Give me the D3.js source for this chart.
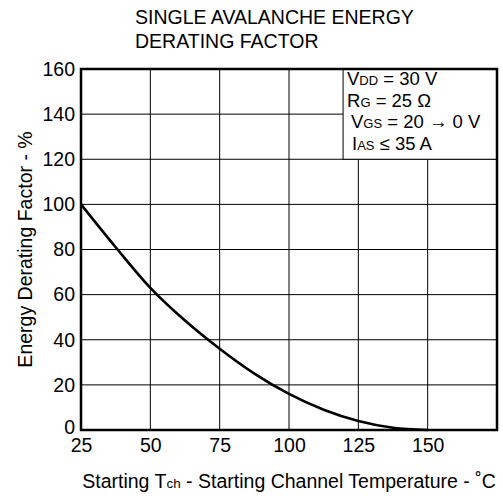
<!DOCTYPE html>
<html>
<head>
<meta charset="utf-8">
<script src="https://cdn.jsdelivr.net/npm/d3@7/dist/d3.min.js"></script>
<style>
  html, body { margin: 0; padding: 0; background: #fff; }
  svg { display: block; font-family: "Liberation Sans", Arial, Helvetica, sans-serif; }
</style>
</head>
<body>
<svg id="chart" width="503" height="500"></svg>
<script>
// Starting channel temperature (°C) and derating factor (%)
const tempC = [25, 37.5, 50, 62.5, 75, 87.5, 100, 112.5, 125, 137.5, 150];
const derating = [100, 81, 63, 48.5, 36, 25, 16, 9, 4, 1, 0];

const xTicks = [25, 50, 75, 100, 125, 150];
const xGrid = [50, 75, 100, 125, 150];
const yTicks = [0, 20, 40, 60, 80, 100, 120, 140, 160];
const yGrid = [20, 40, 60, 80, 100, 120, 140];

const titleLines = ["SINGLE AVALANCHE ENERGY", "DERATING FACTOR"];
const conditions = [
  [["V", 18.5], ["DD", 13], [" = 30 V", 18.5]],
  [["R", 18.5], ["G", 13], [" = 25 \u03A9", 18.5]],
  [["V", 18.5], ["GS", 13], [" = 20 \u2192 0 V", 18.5]],
  [["I", 18.5], ["AS", 13], [" \u2264 35 A", 18.5]]
];

const svg = d3.select("#chart");
const m = { left: 81, right: 6, top: 69, bottom: 70 };
const W = 503, H = 500;

const x = d3.scaleLinear().domain([25, 175]).range([m.left, W - m.right]);
const y = d3.scaleLinear().domain([0, 160]).range([H - m.bottom, m.top]);

// grid
const grid = svg.append("g").attr("stroke", "#000").attr("stroke-width", 1);
grid.selectAll("line.v").data(xGrid).join("line")
  .attr("x1", d => x(d)).attr("x2", d => x(d))
  .attr("y1", y(0)).attr("y2", y(160));
grid.selectAll("line.h").data(yGrid).join("line")
  .attr("x1", x(25)).attr("x2", x(175))
  .attr("y1", d => y(d)).attr("y2", d => y(d));

// condition box in the upper right corner
const boxX = x(119.5), boxY = y(160), boxW = x(175) - x(119.5), boxH = y(120) - y(160);
svg.append("rect")
  .attr("x", boxX).attr("y", boxY).attr("width", boxW).attr("height", boxH)
  .attr("fill", "#fff").attr("stroke", "#000").attr("stroke-width", 1);

const lineX = [347, 347, 351, 352];
conditions.forEach((parts, i) => {
  const t = svg.append("text")
    .attr("x", lineX[i]).attr("y", 85 + i * 21.5)
    .attr("fill", "#000");
  parts.forEach(([s, fs]) => t.append("tspan").attr("font-size", fs).text(s));
});

// curve
svg.append("path")
  .datum(tempC.map((t, i) => [t, derating[i]]))
  .attr("fill", "none").attr("stroke", "#000").attr("stroke-width", 2.6)
  .attr("d", d3.line().x(d => x(d[0])).y(d => y(d[1])).curve(d3.curveMonotoneX));

// frame
svg.append("rect")
  .attr("x", x(25)).attr("y", y(160))
  .attr("width", x(175) - x(25)).attr("height", y(0) - y(160))
  .attr("fill", "none").attr("stroke", "#000").attr("stroke-width", 2.5);

// axes
const xAxis = svg.append("g").attr("transform", `translate(0,${y(0)})`)
  .call(d3.axisBottom(x).tickValues(xTicks).tickSize(0).tickPadding(8));
const yAxis = svg.append("g").attr("transform", `translate(${x(25)},0)`)
  .call(d3.axisLeft(y).tickValues(yTicks).tickSize(0).tickPadding(6));
[xAxis, yAxis].forEach(g => {
  g.select(".domain").remove();
  g.selectAll("text").attr("font-size", 19.5).attr("fill", "#000")
    .attr("font-family", "\"Liberation Sans\", Arial, sans-serif");
});
yAxis.selectAll(".tick").filter(d => d === 0).select("text").attr("dy", "0.2em");

// title
svg.append("g").selectAll("text").data(titleLines).join("text")
  .attr("x", 135).attr("y", (d, i) => 24 + i * 24)
  .attr("font-size", 19.5).attr("fill", "#000").text(d => d);

// axis titles
const xt = svg.append("text")
  .attr("x", (x(25) + x(175)) / 2).attr("y", 488)
  .attr("text-anchor", "middle").attr("font-size", 19.5).attr("fill", "#000");
xt.append("tspan").text("Starting T");
xt.append("tspan").attr("font-size", 13.5).text("ch");
xt.append("tspan").text(" - Starting Channel Temperature - \u02DAC");

svg.append("text")
  .attr("transform", `translate(32,${(y(0) + y(160)) / 2}) rotate(-90)`)
  .attr("text-anchor", "middle").attr("font-size", 19.5).attr("fill", "#000")
  .text("Energy Derating Factor - %");
</script>
</body>
</html>
